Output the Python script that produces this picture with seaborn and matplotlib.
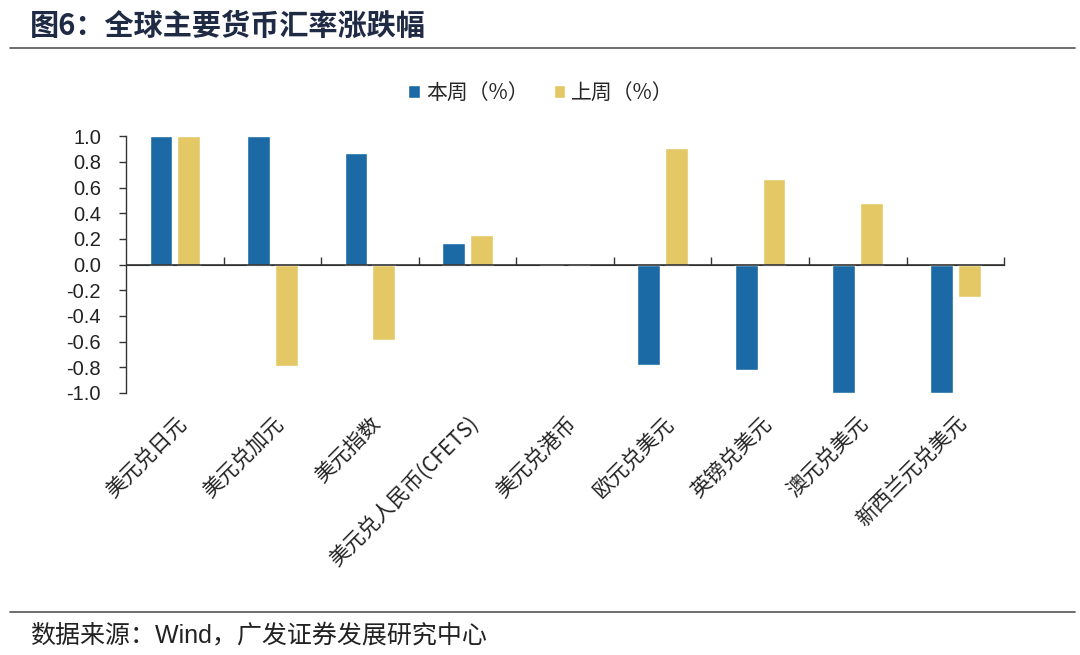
import matplotlib
matplotlib.use("Agg")
import matplotlib.pyplot as plt
import seaborn as sns
import pandas as pd
import numpy as np

categories = ["美元兑日元", "美元兑加元", "美元指数", "美元兑人民币(CFETS)", "美元兑港币",
              "欧元兑美元", "英镑兑美元", "澳元兑美元", "新西兰元兑美元"]
this_week = [1.0, 1.0, 0.87, 0.17, 0.005, -0.78, -0.82, -1.0, -1.0]
last_week = [1.0, -0.79, -0.59, 0.23, -0.005, 0.91, 0.67, 0.48, -0.25]
series_names = ["本周（%）", "上周（%）"]
yticks = [1.0, 0.8, 0.6, 0.4, 0.2, 0.0, -0.2, -0.4, -0.6, -0.8, -1.0]

df = pd.DataFrame({
    "cat": categories * 2,
    "val": this_week + last_week,
    "series": [series_names[0]] * len(categories) + [series_names[1]] * len(categories),
})

sns.set_style("white")
plt.rcParams['font.family'] = ['Liberation Sans', 'Noto Sans CJK SC', 'DejaVu Sans']
cjk = ['Noto Sans CJK SC', 'DejaVu Sans']

fig = plt.figure(figsize=(10.8, 6.55), dpi=100)
ax = fig.add_axes([0.1167, 0.400, 0.8130, 0.392])

palette = {series_names[0]: "#1B6AA5", series_names[1]: "#E4C866"}
sns.barplot(data=df, x="cat", y="val", hue="series", palette=palette, ax=ax,
            width=0.57, gap=0.18, saturation=1, legend=True, errorbar=None)

ax.set_ylim(-1.0, 1.0)
ax.set_xlim(-0.5, len(categories) - 0.5)
ax.set_yticks(yticks)
ax.set_yticklabels([f"{v:.1f}" for v in yticks], fontsize=14.5, color="#222222")
ax.tick_params(axis='y', direction='out', length=5, width=1, color="#333333", left=True, pad=13)
ax.set_xlabel("")
ax.set_ylabel("")

for s in ["top", "right", "bottom"]:
    ax.spines[s].set_visible(False)
ax.spines["left"].set_color("#333333")
ax.spines["left"].set_linewidth(1)

# x labels at bottom, rotated
ax.set_xticks(range(len(categories)))
ax.set_xticklabels(categories, rotation=45, ha="right", rotation_mode="anchor",
                   fontsize=15, family=cjk, color="#222222")
ax.tick_params(axis='x', length=0, pad=14)

# zero axis line with boundary ticks
ax.axhline(0, color="#333333", lw=1.2, zorder=3)
sec = ax.secondary_xaxis(0.5)
sec.set_xticks(np.arange(0.5, len(categories), 1.0))
sec.set_xticklabels([])
sec.tick_params(axis='x', direction='out', length=6, width=1, color="#333333")
sec.spines["bottom"].set_visible(False)

# legend
handles, labels = ax.get_legend_handles_labels()
ax.get_legend().remove()
fig.legend(handles, labels, loc="center", bbox_to_anchor=(0.501, 0.858), ncol=2,
           frameon=False, prop={'family': cjk, 'size': 15}, handlelength=0.55, handleheight=0.55,
           columnspacing=1.2, handletextpad=0.3)

# title and source
fig.text(0.028, 0.960, "图6：全球主要货币汇率涨跌幅", fontsize=21, fontweight="bold",
         family=cjk, color="#1F2A44", va="center", ha="left")
fig.add_artist(plt.Line2D([0.009, 0.995], [0.927, 0.927], color="#555555", lw=1.2))
fig.add_artist(plt.Line2D([0.009, 0.995], [0.066, 0.066], color="#555555", lw=1.2))
fig.text(0.028, 0.030, "数据来源：Wind，广发证券发展研究中心", fontsize=18,
         family=['Liberation Sans', 'Noto Sans CJK SC'], color="#222222", va="center", ha="left")

fig.savefig("out.png", dpi=100)
